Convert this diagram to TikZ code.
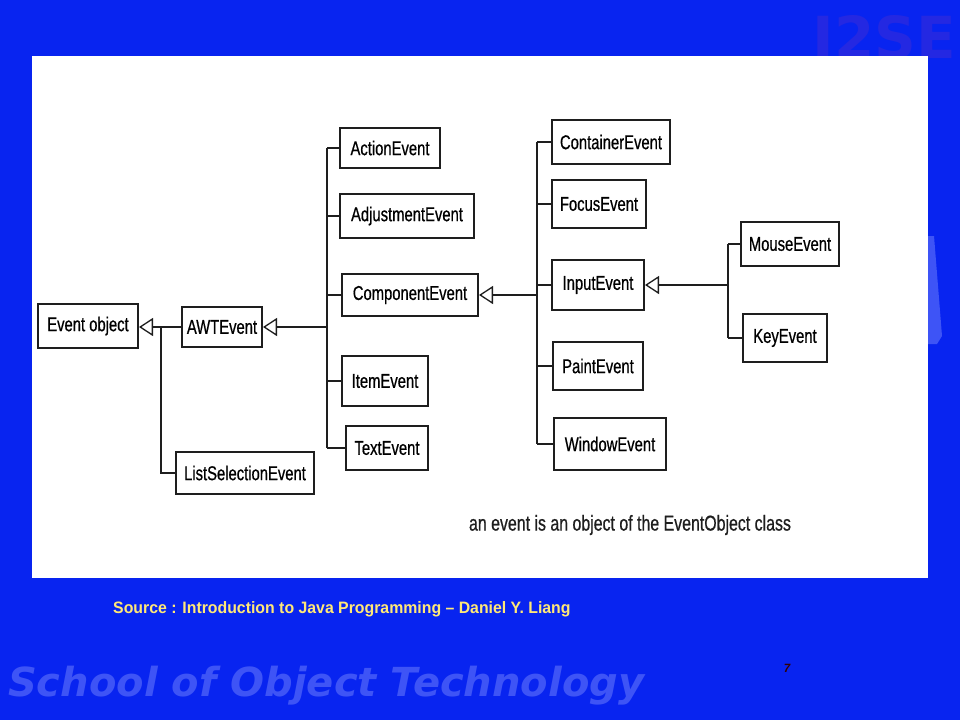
\documentclass[tikz,border=0pt]{standalone}
\usepackage{fontspec}
\usepackage{tikz}
\usetikzlibrary{arrows.meta, positioning}

\newfontfamily\boxfont[FakeStretch=0.74, FakeBold=0.6]{Liberation Sans}
\newfontfamily\srcfont[FakeStretch=0.96]{Liberation Sans}
\newfontfamily\markfont{DejaVu Sans}

\definecolor{slideblue}{RGB}{8,36,240}
\definecolor{markblue}{RGB}{62,84,246}
\definecolor{logoblue}{RGB}{36,40,226}
\definecolor{srcyellow}{RGB}{255,232,120}
\definecolor{boxline}{RGB}{30,30,30}

\begin{document}
\begin{tikzpicture}[x=1pt, y=-1pt,
    cls/.style={draw=boxline, line width=2pt, fill=white, inner sep=0pt,
                minimum height=44pt, font=\boxfont\fontsize{20}{23}\selectfont},
    link/.style={draw=boxline, line width=2pt},
    gen/.style={link, -{Triangle[open, fill=white, length=14pt, width=18pt, line width=1.3pt]}}]

\useasboundingbox (0,0) rectangle (960,720);
\fill[slideblue] (0,0) rectangle (960,720);
\node[font=\markfont\bfseries\fontsize{58}{58}\selectfont, text=logoblue, anchor=base east, inner sep=0pt] (logo) at (956,58) {J2SE};
\fill[markblue] (928,236) -- (934,236) -- (942,336) -- (937,344) -- (928,344) -- cycle;
\fill[white] (32,56) rectangle (928,578);

\node[cls, minimum width=100pt, minimum height=44pt] (obj) at (88,326)  {Event object};
\node[cls, minimum width=80pt, minimum height=40pt]  (awt) at (222,327) {AWTEvent};
\node[cls, minimum width=138pt, minimum height=42pt] (lse) at (245,473) {ListSelectionEvent};

\node[cls, minimum width=100pt, minimum height=40pt] (act) at (390,148) {ActionEvent};
\node[cls, minimum width=134pt, minimum height=44pt] (adj) at (407,216) {AdjustmentEvent};
\node[cls, minimum width=136pt, minimum height=42pt] (cmp) at (410,295) {ComponentEvent};
\node[cls, minimum width=86pt, minimum height=50pt]  (itm) at (385,381) {ItemEvent};
\node[cls, minimum width=82pt, minimum height=44pt]  (txt) at (387,448) {TextEvent};

\node[cls, minimum width=118pt, minimum height=44pt] (con) at (611,142) {ContainerEvent};
\node[cls, minimum width=94pt, minimum height=48pt]  (foc) at (599,204) {FocusEvent};
\node[cls, minimum width=92pt, minimum height=50pt]  (inp) at (598,285) {InputEvent};
\node[cls, minimum width=90pt, minimum height=48pt]  (pnt) at (598,366) {PaintEvent};
\node[cls, minimum width=112pt, minimum height=52pt] (win) at (610,444) {WindowEvent};

\node[cls, minimum width=98pt, minimum height=44pt]  (mou) at (790,244) {MouseEvent};
\node[cls, minimum width=84pt, minimum height=48pt]  (key) at (785,338) {KeyEvent};

\coordinate (t1) at (161,0);
\coordinate (t2) at (327,0);
\coordinate (t3) at (537,0);
\coordinate (t4) at (728,0);

\draw[gen]  (awt.west) -- (awt.west -| obj.east);
\draw[link] (awt.west -| t1) |- (lse.west);

\draw[gen]  (awt.east -| t2) -- (awt.east);
\draw[link] (act.west -| t2) -- (txt.west -| t2);
\foreach \n in {act,adj,cmp,itm,txt}
  \draw[link] (\n.west -| t2) -- (\n.west);

\draw[gen]  (cmp.east -| t3) -- (cmp.east);
\draw[link] (con.west -| t3) -- (win.west -| t3);
\foreach \n in {con,foc,inp,pnt,win}
  \draw[link] (\n.west -| t3) -- (\n.west);

\draw[gen]  (inp.east -| t4) -- (inp.east);
\draw[link] (mou.west -| t4) -- (key.west -| t4);
\foreach \n in {mou,key}
  \draw[link] (\n.west -| t4) -- (\n.west);

\node[font=\boxfont\fontsize{21.5}{24}\selectfont, text=boxline] (note) at (630,525) {an event is an object of the EventObject class};

\node[font=\srcfont\bfseries\fontsize{16.5}{18}\selectfont, text=srcyellow, anchor=west, inner sep=0pt] (src) at (113,609) {Source : Introduction to Java Programming – Daniel Y. Liang};
\node[font=\markfont\bfseries\itshape\fontsize{40}{44}\selectfont, text=markblue, anchor=west, inner sep=0pt] (school) at (8,686) {School of Object Technology};
\node[font=\srcfont\bfseries\itshape\fontsize{12}{12}\selectfont, text=black!80!red, inner sep=0pt] (page) at (787,668) {7};

\end{tikzpicture}
\end{document}
